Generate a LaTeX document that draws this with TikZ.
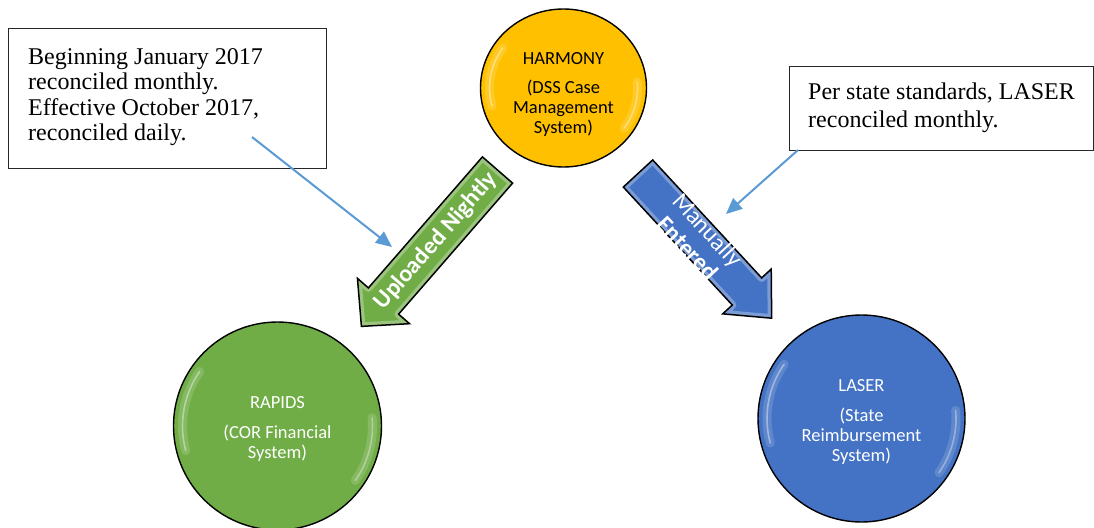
\documentclass[tikz,border=0pt]{standalone}
\usepackage{fontspec}
\setmainfont{Liberation Serif}
\newfontfamily\calib{Carlito}
\usetikzlibrary{arrows.meta,shapes.geometric}
\definecolor{hyellow}{HTML}{FFC000}
\definecolor{rgreen}{HTML}{70AD47}
\definecolor{lblue}{HTML}{4472C4}
\definecolor{cline}{HTML}{5B9BD5}
\newcommand\greenpath{(0,20) -- (173.7,20) -- (173.7,34.5) -- (207.3,0) -- (173.7,-34.5) -- (173.7,-20) -- (0,-20) -- cycle}
\newcommand\bluepath{(0,20) -- (160.6,20) -- (160.6,33) -- (197,0) -- (160.6,-33) -- (160.6,-20) -- (0,-20) -- cycle}
\begin{document}
\begin{tikzpicture}[x=1pt,y=1pt,
  sys/.style={draw=black, line width=1.4pt, inner sep=0pt},
  systext/.style={font=\calib\fontsize{18.5}{20}\selectfont, align=center, inner sep=0pt, anchor=north},
  arrowtext/.style={font=\calib\fontsize{24}{27}\selectfont, text=white, align=center, inner sep=0pt},
  note/.style={draw=black!85, line width=1.1pt, inner sep=0pt, anchor=north west},
  notetext/.style={font=\fontsize{24}{25.5}\selectfont, align=left, inner sep=0pt, anchor=north west},
  callout/.style={draw=cline, line width=2pt, -{Triangle[length=16pt,width=14pt]}},
  outline/.style={draw=black, line width=1.5pt, line join=miter},
  shine/.style={white, line cap=round}]
\fill[white] (0,0) rectangle (1094,-527);
\useasboundingbox (0,0) rectangle (1094,-527);

% system circles
\node[sys, ellipse, minimum width=166pt, minimum height=158pt, fill=hyellow] (harmony) at (563.5,-88) {};
\node[sys, circle, minimum size=208pt, fill=rgreen] (rapids) at (277.5,-426) {};
\node[sys, circle, minimum size=207pt, fill=lblue] (laser) at (861.5,-418.5) {};

% shine
\foreach \n/\rx/\ry in {harmony/74/70, rapids/95/95, laser/94.5/94.5}{
  \draw[shine, opacity=.15, line width=9pt] ([shift={(145:\rx pt and \ry pt)}]\n.center) arc[start angle=145, end angle=195, x radius=\rx pt, y radius=\ry pt];
  \draw[shine, opacity=.4, line width=1.6pt] ([shift={(145:\rx pt and \ry pt)}]\n.center) arc[start angle=145, end angle=195, x radius=\rx pt, y radius=\ry pt];
  \draw[shine, opacity=.15, line width=9pt] ([shift={(5:\rx pt and \ry pt)}]\n.center) arc[start angle=5, end angle=-35, x radius=\rx pt, y radius=\ry pt];
  \draw[shine, opacity=.35, line width=1.6pt] ([shift={(5:\rx pt and \ry pt)}]\n.center) arc[start angle=5, end angle=-35, x radius=\rx pt, y radius=\ry pt];
}

\node[systext] (harmonytxt) at (563.5,-52.5) {HARMONY\\[9pt](DSS Case\\Management\\System)};
\node[systext, text=white] (rapidstxt) at (277.5,-396) {RAPIDS\\[10pt](COR Financial\\System)};
\node[systext, text=white] (lasertxt) at (861.5,-379) {LASER\\[10pt](State\\Reimbursement\\System)};

% block arrows
\begin{scope}[shift={(497.5,-170)}, rotate=-131.03]
  \fill[rgreen] \greenpath;
  \begin{scope}
    \clip \greenpath;
    \draw[white, opacity=.3, line width=8pt, line join=round] \greenpath;
  \end{scope}
  \draw[outline] \greenpath;
\end{scope}
\node[arrowtext, rotate=48.97] (uploaded) at (436,-241) {\textbf{Uploaded Nightly}};

\begin{scope}[shift={(638,-173.5)}, rotate=-47.27]
  \fill[lblue] \bluepath;
  \begin{scope}
    \clip \bluepath;
    \draw[white, opacity=.3, line width=8pt, line join=round] \bluepath;
  \end{scope}
  \draw[outline] \bluepath;
\end{scope}
\node[arrowtext, rotate=-47.27] (manual) at (698,-239) {Manually\\\textbf{Entered}};

% notes
\node[note, minimum width=318pt, minimum height=140pt] (note1) at (8,-28) {};
\node[notetext] (note1txt) at (28,-48) {Beginning January 2017\\reconciled monthly.\\Effective October 2017,\\reconciled daily.};
\node[note, minimum width=304pt, minimum height=84pt] (note2) at (789,-66) {};
\node[notetext, font=\fontsize{24}{28}\selectfont] (note2txt) at (808,-83) {Per state standards, LASER\\reconciled monthly.};

% callout lines
\coordinate (c1s) at (252,-137);
\coordinate (c1e) at (392,-247);
\coordinate (c2s) at (798,-150);
\coordinate (c2e) at (726,-214);
\draw[callout] (c1s) -- (c1e);
\draw[callout] (c2s) -- (c2e);
\end{tikzpicture}
\end{document}
